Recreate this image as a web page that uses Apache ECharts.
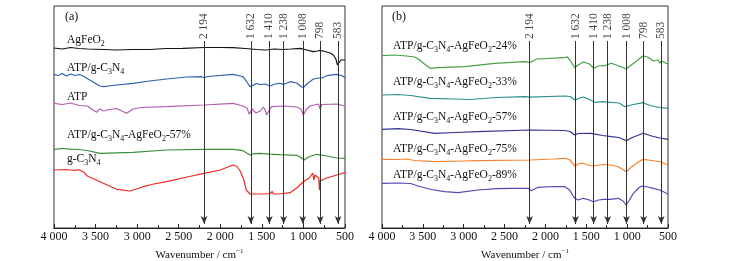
<!DOCTYPE html>
<html>
<head>
<meta charset="utf-8">
<script src="https://cdn.jsdelivr.net/npm/echarts@6/dist/echarts.min.js"></script>
<style>
html, body { margin: 0; padding: 0; background: #fff; }
#ftir { width: 731px; height: 261px; }
</style>
</head>
<body>
<div id="ftir"></div>
<script>
// wavenumber (cm-1) -> relative transmittance (arbitrary, offset per curve)
var agfeo2 = [[4000,180],[3900,179],[3800,180.5],[3700,179.5],[3600,179],[3400,178.5],[3250,178],[3050,178.5],[2850,178.5],[2650,179.5],[2450,179.7],[2194,180.5],[2000,180.5],[1850,180.3],[1700,179.5],[1560,178.5],[1450,178],[1350,179],[1245,178.5],[1150,179],[1040,179.7],[960,178],[880,176.3],[830,177],[800,177.7],[740,176.5],[680,175],[640,173],[610,169],[590,163],[570,164],[550,168],[530,169],[500,168]];
var atpCn = [[4000,153.7],[3950,152.5],[3900,154.5],[3850,152],[3800,154],[3750,152.5],[3700,153.5],[3650,152],[3550,147],[3450,142],[3400,141.3],[3300,142.5],[3050,144.7],[2850,147],[2645,149],[2400,151],[2224,151.3],[2194,150.3],[2150,151.5],[1846,153.7],[1760,152],[1727,151.3],[1680,146],[1643,141.3],[1600,143],[1560,144.5],[1522,143.5],[1460,144],[1402,142],[1340,144],[1282,144.7],[1240,143.5],[1161,146.3],[1080,145],[1030,141.5],[1000,140.3],[960,144],[880,149],[820,150],[798,148],[780,150],[720,152.3],[600,153.7],[540,152.5],[500,150.3]];
var atp = [[4000,124.7],[3900,123.5],[3800,125],[3700,122.5],[3600,122],[3530,118],[3487,115.7],[3450,119],[3400,117],[3366,118],[3250,119.5],[3125,114.7],[3050,119],[2950,120.5],[2645,121.3],[2194,123],[1846,124.7],[1727,122],[1680,120],[1650,113.7],[1620,119],[1602,120],[1570,115],[1554,113],[1520,117],[1482,121],[1460,118],[1442,113],[1410,118],[1382,121.3],[1240,122],[1080,121],[1030,119],[1000,113],[970,118],[920,122],[820,124],[800,119],[780,123.5],[600,124],[500,122]];
var comp57a = [[4000,78.7],[3900,79.5],[3800,78.8],[3700,78.5],[3600,77.5],[3447,74.7],[3250,75.2],[3050,75.7],[2645,78],[2194,78.7],[1846,78.7],[1727,77.3],[1643,73],[1600,74.3],[1522,74.7],[1400,73.8],[1282,73.3],[1080,72.7],[1030,70.5],[990,68],[940,71],[840,73.7],[720,72],[600,70],[500,69.7]];
var gcn = [[4000,58],[3850,58.5],[3750,57.5],[3700,58.3],[3647,56.3],[3600,52],[3447,46.3],[3246,38.7],[3085,37],[2926,41.3],[2800,44],[2645,46.3],[2400,51],[2194,54.7],[2000,58],[1846,63],[1800,61.5],[1767,58],[1720,49],[1687,38],[1643,34],[1500,34],[1400,34.5],[1375,36.5],[1362,34],[1300,34],[1161,35.3],[1080,40],[1000,46.3],[930,50],[888,55],[875,48],[860,53],[840,54.5],[815,50],[808,38],[800,47],[780,48],[720,50],[600,53],[500,55.3]];

var comp24 = [[4000,172.3],[3850,173],[3700,172],[3600,171],[3559,169],[3412,159.7],[3315,160.3],[2988,161.3],[2621,164.7],[2254,166.3],[2194,165.3],[2106,169],[1764,170.3],[1739,171.3],[1700,168],[1641,160.3],[1600,163],[1534,166],[1460,164],[1410,159.7],[1350,162],[1274,162.3],[1193,164.7],[1100,162],[1010,159],[950,163],[900,166],[809,172],[750,171],[680,167],[622,168],[597,164.7],[581,167],[560,166],[500,163.7]];
var comp33 = [[4000,133],[3800,133.5],[3650,132.5],[3412,129.7],[3100,129],[2923,128.5],[2600,130.5],[2254,131.3],[2194,130.8],[1764,132],[1700,131.5],[1638,128],[1580,130],[1534,131],[1450,128],[1393,125.7],[1300,126.3],[1100,125],[1026,121.3],[950,123],[809,125.3],[700,122],[600,120.5],[500,119.7]];
var comp57b = [[4000,98.7],[3800,99.3],[3650,98.5],[3355,94.7],[3100,95.5],[2825,96.3],[2194,98],[1764,97.5],[1700,96.5],[1641,93],[1600,94.5],[1438,94.7],[1300,92.5],[1193,91.3],[1100,90.5],[1010,87.3],[950,90],[806,94.7],[700,92],[600,90],[500,88.7]];
var comp75 = [[4000,68.7],[3800,68.5],[3700,69],[3600,67.5],[3355,66.3],[3000,67],[2825,67.3],[2194,68],[1900,69],[1764,69.7],[1700,68],[1641,62],[1600,64],[1550,65],[1480,63],[1410,62],[1300,63.5],[1193,63],[1100,61],[1010,56.3],[950,61],[880,65],[806,68.7],[700,67.5],[581,66],[530,64],[500,63]];
var comp89 = [[4000,44.7],[3800,45],[3650,44.5],[3559,42],[3400,38.5],[3233,36.3],[3070,35.3],[2825,38],[2600,39.3],[2417,39.7],[2213,39.7],[2173,37.3],[2090,40.7],[1900,41.5],[1764,41.3],[1703,38],[1660,32],[1641,29.7],[1600,28],[1536,29.7],[1480,28.5],[1414,26.3],[1350,28],[1291,28.7],[1209,28.7],[1107,29.7],[1050,27],[1013,23],[980,27],[923,34.7],[860,40],[821,42],[750,41],[680,39.7],[600,38],[500,34]];

var peaks = [2194, 1632, 1410, 1238, 1008, 798, 583];
var namesA = ['AgFeO{s|2}', 'ATP/g-C{s|3}N{s|4}', 'ATP', 'ATP/g-C{s|3}N{s|4}-AgFeO{s|2}-57%', 'g-C{s|3}N{s|4}'];
var namesB = ['ATP/g-C{s|3}N{s|4}-AgFeO{s|2}-24%', 'ATP/g-C{s|3}N{s|4}-AgFeO{s|2}-33%', 'ATP/g-C{s|3}N{s|4}-AgFeO{s|2}-57%', 'ATP/g-C{s|3}N{s|4}-AgFeO{s|2}-75%', 'ATP/g-C{s|3}N{s|4}-AgFeO{s|2}-89%'];
var colorsA = ['#111111', '#2f5fb3', '#b45cb0', '#3c8c3c', '#ee2a22'];
var colorsB = ['#47a047', '#2b918b', '#31338f', '#f5832e', '#5548b4'];

var serif = '"Liberation Serif", "DejaVu Serif", serif';
var fmt = function (v) {
    v = Math.round(v);
    return v >= 1000 ? Math.floor(v / 1000) + ' ' + String(v % 1000).padStart(3, '0') : String(v);
};

var chart = echarts.init(document.getElementById('ftir'));

function xAx(idx) {
    return {
        type: 'value', gridIndex: idx, min: 500, max: 4000, interval: 500, inverse: true,
        axisLine: { lineStyle: { color: '#222', width: 1 } },
        axisTick: { inside: true, length: 4, lineStyle: { color: '#222' } },
        minorTick: { show: true, splitNumber: 2, length: 3, lineStyle: { color: '#222' } },
        splitLine: { show: false },
        axisLabel: { formatter: fmt, color: '#111', fontFamily: serif, fontSize: 12, margin: 3 },
        name: 'Wavenumber / cm{sup|\u22121}',
        nameLocation: 'middle', nameGap: 20, nameMoveOverlap: false,
        nameTextStyle: {
            color: '#111', fontFamily: serif, fontSize: 11, lineHeight: 14,
            rich: { sup: { fontSize: 7, lineHeight: 7, verticalAlign: 'top', fontFamily: serif, color: '#111' } }
        }
    };
}
function yAx(idx) {
    return { type: 'value', gridIndex: idx, min: 0, max: 222, show: false };
}

function curves(list, colors, idx) {
    return list.map(function (d, i) {
        return {
            type: 'line', xAxisIndex: idx, yAxisIndex: idx, data: d, showSymbol: false,
            silent: true, animation: false,
            lineStyle: { color: colors[i], width: 1.2 }
        };
    });
}

function peakSeries(idx) {
    return {
        type: 'scatter', xAxisIndex: idx, yAxisIndex: idx, silent: true, animation: false,
        symbolSize: 1, itemStyle: { color: 'rgba(0,0,0,0)' },
        data: peaks.map(function (p) { return [p, 189]; }),
        label: {
            show: true, position: 'inside', rotate: 90, align: 'left', verticalAlign: 'middle',
            formatter: function (p) { return fmt(p.value[0]); },
            color: '#111', fontFamily: serif, fontSize: 11.5
        },
        markLine: {
            silent: true, animation: false,
            symbol: ['none', 'arrow'], symbolSize: [5, 8],
            label: { show: false },
            lineStyle: { color: '#333', width: 1, type: 'solid' },
            data: peaks.map(function (p) { return [{ coord: [p, 187] }, { coord: [p, 4] }]; })
        }
    };
}

var labelYA = [40, 68, 97, 135, 159];
var labelYB = [46, 82, 117, 149, 175];
var graphics = [];
function addLabels(names, ys, x) {
    names.forEach(function (n, i) {
        graphics.push({
            type: 'text', x: x, y: ys[i], silent: true,
            style: {
                text: n, fill: '#111', font: '11.5px ' + serif, lineHeight: 16,
                verticalAlign: 'middle', align: 'left',
                rich: { s: { fontSize: 8, lineHeight: 8, verticalAlign: 'bottom', fontFamily: serif, fill: '#111' } }
            }
        });
    });
}
addLabels(namesA, labelYA, 67);
addLabels(namesB, labelYB, 393);
graphics.push({ type: 'text', x: 65, y: 17, silent: true, style: { text: '(a)', fill: '#111', font: '12px ' + serif, verticalAlign: 'middle' } });
graphics.push({ type: 'text', x: 392, y: 17, silent: true, style: { text: '(b)', fill: '#111', font: '12px ' + serif, verticalAlign: 'middle' } });

var option = {
    backgroundColor: '#ffffff',
    animation: false,
    grid: [
        { left: 54, top: 6, width: 291, height: 222, show: true, borderColor: '#333', borderWidth: 1, outerBoundsMode: 'none', containLabel: false },
        { left: 382, top: 6, width: 286, height: 222, show: true, borderColor: '#333', borderWidth: 1, outerBoundsMode: 'none', containLabel: false }
    ],
    xAxis: [xAx(0), xAx(1)],
    yAxis: [yAx(0), yAx(1)],
    graphic: graphics,
    series: [].concat(
        curves([agfeo2, atpCn, atp, comp57a, gcn], colorsA, 0),
        curves([comp24, comp33, comp57b, comp75, comp89], colorsB, 1),
        [peakSeries(0), peakSeries(1)]
    )
};
chart.setOption(option);
</script>
</body>
</html>
